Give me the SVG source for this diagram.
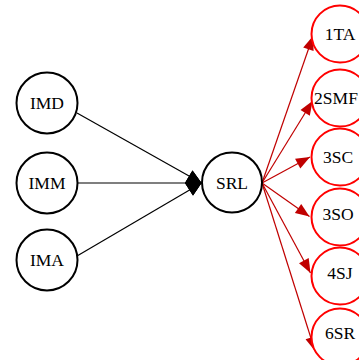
<svg xmlns="http://www.w3.org/2000/svg" width="359" height="360" viewBox="0 0 359 360">
  <style>
    .node circle { fill: #ffffff; stroke-width: 2; }
    .black circle { stroke: #000000; }
    .red circle { stroke: #ff0000; }
    .node text { font-family: "Liberation Serif", "Times New Roman", serif; font-size: 17.5px; text-anchor: middle; fill: #000000; }
    .in line { stroke: #000000; stroke-width: 1.2; marker-end: url(#dia); }
    .out line { stroke: #c00000; stroke-width: 1.2; marker-end: url(#arr); }
  </style>
  <defs>
    <!-- shared head: the three inputs meet at one point on SRL -->
    <marker id="dia" markerUnits="userSpaceOnUse" orient="0" refX="16.5" refY="13" markerWidth="17" markerHeight="26" viewBox="0 0 17 26" overflow="visible">
      <path d="M0,13 L7.5,0.5 L16.5,13 L8,25.5 Z" fill="#000000"/>
    </marker>
    <marker id="arr" markerUnits="userSpaceOnUse" orient="auto" refX="14" refY="5.5" markerWidth="15" markerHeight="11" viewBox="0 0 15 11" overflow="visible">
      <path d="M0,0 L14,5.5 L0,11 Z" fill="#c00000"/>
    </marker>
  </defs>

  <!-- connectors -->
  <g id="edges">
    <g class="in">
      <line x1="77" y1="113" x2="201.5" y2="183"/>
      <line x1="78" y1="183" x2="201.5" y2="183"/>
      <line x1="77" y1="256" x2="201.5" y2="183"/>
    </g>
    <g class="out">
      <line x1="262" y1="183" x2="313" y2="36"/>
      <line x1="262" y1="183" x2="312.5" y2="101"/>
      <line x1="262" y1="183" x2="310" y2="157"/>
      <line x1="262" y1="183" x2="309.5" y2="216.5"/>
      <line x1="262" y1="183" x2="310.5" y2="273"/>
      <line x1="262" y1="183" x2="315" y2="351"/>
    </g>
  </g>

  <!-- input nodes -->
  <g id="IMD" class="node black"><circle cx="47" cy="103" r="30.5"/><text x="47" y="109">IMD</text></g>
  <g id="IMM" class="node black"><circle cx="47" cy="183" r="30.5"/><text x="47" y="189">IMM</text></g>
  <g id="IMA" class="node black"><circle cx="47" cy="260" r="30.5"/><text x="47" y="265.5">IMA</text></g>

  <!-- hub -->
  <g id="SRL" class="node black"><circle cx="232" cy="182.5" r="30"/><text x="232" y="188.5">SRL</text></g>

  <!-- output nodes -->
  <g id="N1TA" class="node red"><circle cx="340" cy="34" r="28.5"/><text x="340" y="40">1TA</text></g>
  <g id="N2SMF" class="node red"><circle cx="340" cy="98" r="28.5"/><text x="336" y="104">2SMF</text></g>
  <g id="N3SC" class="node red"><circle cx="340" cy="157" r="28.5"/><text x="338" y="163">3SC</text></g>
  <g id="N3SO" class="node red"><circle cx="340" cy="217" r="28.5"/><text x="338" y="220">3SO</text></g>
  <g id="N4SJ" class="node red"><circle cx="340" cy="276" r="28.5"/><text x="340" y="278.5">4SJ</text></g>
  <g id="N6SR" class="node red"><circle cx="340" cy="337" r="28.5"/><text x="340" y="338.5">6SR</text></g>
</svg>
